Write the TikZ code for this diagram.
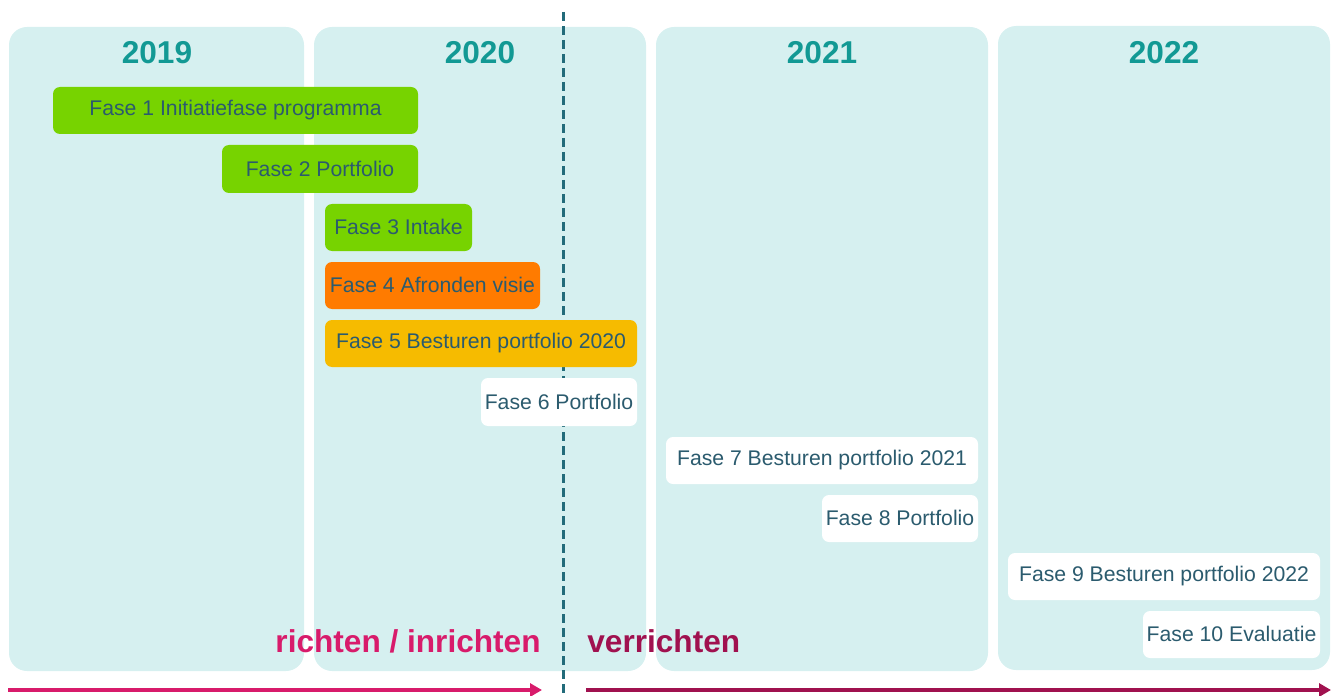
\documentclass[tikz,border=0pt]{standalone}
\usepackage{fontspec}
\setmainfont{Liberation Sans}
\usetikzlibrary{arrows.meta}
\definecolor{panel}{RGB}{214,240,240}
\definecolor{yeartxt}{RGB}{18,153,148}
\definecolor{fgreen}{RGB}{119,211,0}
\definecolor{forange}{RGB}{255,123,0}
\definecolor{fyellow}{RGB}{246,187,0}
\definecolor{ftext}{RGB}{43,91,110}
\definecolor{dashc}{RGB}{34,107,122}
\definecolor{pinkc}{RGB}{216,27,107}
\definecolor{magc}{RGB}{160,17,79}
\tikzset{
  panelbox/.style={fill=panel, rounded corners=9pt},
  barbox/.style={rounded corners=3.5pt},
  yearlbl/.style={font=\fontsize{15.8}{18}\selectfont\bfseries, text=yeartxt},
  barlbl/.style={font=\fontsize{10.6}{12}\selectfont, text=ftext, inner sep=0pt},
  phaselbl/.style={font=\fontsize{15.8}{19}\selectfont\bfseries, inner sep=0pt},
}
\newcommand\pbar[7]{%
  \fill[barbox, #6] (#2,#3) rectangle (#4,#5);
  \node[barlbl] (#1) at ({(#2+#4)/2},{(#3+#5)/2-0.5}) {#7};}
\begin{document}
\begin{tikzpicture}[x=0.5pt,y=-0.5pt]
\useasboundingbox (0,0) rectangle (1331,695);
% panels
\fill[panelbox] (9,27) rectangle (304,671);
\fill[panelbox] (314,27) rectangle (646,671);
\fill[panelbox] (656,27) rectangle (988,671);
\fill[panelbox] (998,26) rectangle (1330,670);
\node[yearlbl] (y19) at (157,53) {2019};
\node[yearlbl] (y20) at (480,53) {2020};
\node[yearlbl] (y21) at (822,53) {2021};
\node[yearlbl] (y22) at (1164,53) {2022};
% dashed divider
\coordinate (dtop) at (563,12);
\coordinate (dbot) at (563,695);
\draw[dashc, line width=1.5pt, dash pattern=on 4.5pt off 2.5pt] (dtop) -- (dbot);
% bars
\pbar{f1}{53}{87}{418}{134}{fgreen}{Fase 1 Initiatiefase programma}
\pbar{f2}{222}{145}{418}{193}{fgreen}{Fase 2 Portfolio}
\pbar{f3}{325}{204}{472}{251}{fgreen}{Fase 3 Intake}
\pbar{f4}{325}{262}{540}{309}{forange}{Fase 4 Afronden visie}
\pbar{f5}{325}{320}{637}{367}{fyellow}{Fase 5 Besturen portfolio 2020}
\pbar{f6}{481}{378}{637}{426}{white}{Fase 6 Portfolio}
\pbar{f7}{666}{437}{978}{484}{white}{Fase 7 Besturen portfolio 2021}
\pbar{f8}{822}{495}{978}{542}{white}{Fase 8 Portfolio}
\pbar{f9}{1008}{553}{1320}{600}{white}{Fase 9 Besturen portfolio 2022}
\pbar{f10}{1143}{611}{1320}{658}{white}{Fase 10 Evaluatie}
% phase labels
\node[phaselbl, text=pinkc, anchor=east] (richt) at (541,641) {richten / inrichten};
\node[phaselbl, text=magc, anchor=west] (verr) at (587,641) {verrichten};
% arrows
\coordinate (a1s) at (8,690);
\coordinate (a1e) at (542,690);
\coordinate (a2s) at (586,690);
\coordinate (a2e) at (1331,690);
\draw[pinkc, line width=1.6pt, -{Triangle[length=6pt,width=6.5pt]}] (a1s) -- (a1e);
\draw[magc, line width=1.6pt, -{Triangle[length=6pt,width=6.5pt]}] (a2s) -- (a2e);
\end{tikzpicture}
\end{document}
